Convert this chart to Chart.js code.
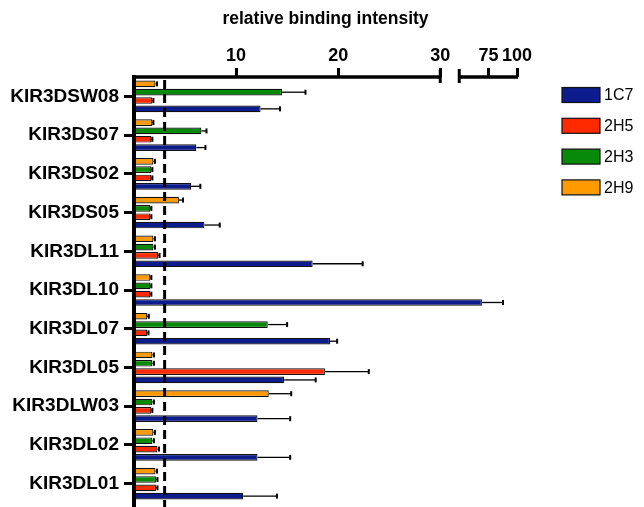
<!DOCTYPE html>
<html><head><meta charset="utf-8">
<script src="https://cdn.jsdelivr.net/npm/chart.js@4/dist/chart.umd.min.js"></script>
<style>html,body{margin:0;padding:0;background:#fff;}#wrap{width:644px;height:507px;position:relative}</style>
</head><body><div id="wrap"><canvas id="c" width="644" height="507"></canvas></div>
<script>
// ---- data ----
const categories = ['KIR3DSW08','KIR3DS07','KIR3DS02','KIR3DS05','KIR3DL11','KIR3DL10','KIR3DL07','KIR3DL05','KIR3DLW03','KIR3DL02','KIR3DL01'];
const series1C7 = [12.4, 6.1, 5.6, 6.9, 17.5, 69.2, 19.2, 14.7, 12.1, 12.1, 10.7];
const err1C7    = [1.9, 0.9, 0.9, 1.5, 4.9, 18.5, 0.7, 3.1, 3.2, 3.2, 3.3];
const series2H5 = [1.8, 1.7, 1.7, 1.6, 2.35, 1.6, 1.3, 18.7, 1.7, 2.3, 2.15];
const err2H5    = [0.1, 0.1, 0.1, 0.1, 0.15, 0.1, 0.12, 4.3, 0.1, 0.15, 0.15];
const series2H3 = [14.5, 6.6, 1.7, 1.6, 1.9, 1.6, 13.1, 1.8, 1.8, 1.8, 2.15];
const err2H3    = [2.3, 0.5, 0.1, 0.1, 0.15, 0.1, 1.9, 0.15, 0.15, 0.15, 0.15];
const series2H9 = [2.1, 1.8, 1.9, 4.4, 1.9, 1.6, 1.3, 1.8, 13.2, 1.9, 2.1];
const err2H9    = [0.15, 0.1, 0.15, 0.4, 0.15, 0.1, 0.15, 0.15, 2.2, 0.15, 0.15];
const xTickValues = [10, 20, 30, 75, 100];
const thresholdValue = 3;
const axisTitle = 'relative binding intensity';

// ---- broken axis mapping (0-30 | 49.3-100) ----
const LOW_MAX = 30, HIGH_MIN = 49.3, HIGH_MAX = 100, GAP = 1.86, HIGH_K = 0.1116;
function fwd(v){ return v <= LOW_MAX ? v : LOW_MAX + GAP + (v - HIGH_MIN) * HIGH_K; }

const FONT = "'Liberation Sans', Arial, Helvetica, sans-serif";
const colors = {c1C7:'#0c1c8c', c2H5:'#ff2a00', c2H3:'#078a07', c2H9:'#ff9a00'};

function ds(label, vals, errs, color){
  return {label, data: vals.map(fwd), raw: vals, err: errs, backgroundColor: color,
    borderColor: '#111', borderWidth: 1.2, borderSkipped: 'start'};
}

const datasets = [
  ds('2H9', series2H9, err2H9, colors.c2H9),
  ds('2H3', series2H3, err2H3, colors.c2H3),
  ds('2H5', series2H5, err2H5, colors.c2H5),
  ds('1C7', series1C7, err1C7, colors.c1C7)
];

const decor = {
  id: 'decor',
  afterDatasetsDraw(chart){
    const ctx = chart.ctx, xs = chart.scales.x, ca = chart.chartArea;
    ctx.save();
    // error bars
    chart.data.datasets.forEach((d, i) => {
      const meta = chart.getDatasetMeta(i);
      meta.data.forEach((bar, j) => {
        const x1 = xs.getPixelForValue(fwd(d.raw[j]));
        const x2 = xs.getPixelForValue(fwd(d.raw[j] + d.err[j]));
        ctx.strokeStyle = '#000';
        ctx.lineWidth = 1.3;
        ctx.beginPath(); ctx.moveTo(x1, bar.y); ctx.lineTo(x2, bar.y); ctx.stroke();
        ctx.lineWidth = 2;
        ctx.beginPath(); ctx.moveTo(x2, bar.y - 2.5); ctx.lineTo(x2, bar.y + 2.5); ctx.stroke();
      });
    });
    // dashed threshold
    const xt = xs.getPixelForValue(fwd(thresholdValue));
    ctx.setLineDash([9, 5]);
    ctx.lineWidth = 3;
    ctx.beginPath(); ctx.moveTo(xt, ca.top + 3); ctx.lineTo(xt, 507); ctx.stroke();
    ctx.setLineDash([]);
    // left axis
    ctx.lineWidth = 4;
    ctx.beginPath(); ctx.moveTo(ca.left, ca.top - 2); ctx.lineTo(ca.left, 507); ctx.stroke();
    // top broken axis
    const p30 = xs.getPixelForValue(fwd(LOW_MAX));
    const pHi = xs.getPixelForValue(fwd(HIGH_MIN));
    const p100 = xs.getPixelForValue(fwd(HIGH_MAX));
    ctx.lineWidth = 3.5;
    ctx.beginPath(); ctx.moveTo(ca.left - 2, ca.top); ctx.lineTo(p30, ca.top); ctx.stroke();
    ctx.beginPath(); ctx.moveTo(pHi, ca.top); ctx.lineTo(p100 + 1, ca.top); ctx.stroke();
    ctx.lineWidth = 3;
    ctx.beginPath(); ctx.moveTo(p30, ca.top - 8); ctx.lineTo(p30, ca.top + 6); ctx.stroke();
    ctx.beginPath(); ctx.moveTo(pHi, ca.top - 8); ctx.lineTo(pHi, ca.top + 6); ctx.stroke();
    ctx.restore();
  },
  afterDraw(chart){
    // legend (reverse dataset order)
    const ctx = chart.ctx;
    ctx.save();
    const items = chart.data.datasets.slice().reverse();
    items.forEach((d, k) => {
      const cy = 95 + k * 30.8;
      ctx.fillStyle = d.backgroundColor;
      ctx.fillRect(562, cy - 7.5, 38, 15);
      ctx.strokeStyle = '#111'; ctx.lineWidth = 1.2;
      ctx.strokeRect(562, cy - 7.5, 38, 15);
      ctx.fillStyle = '#000';
      ctx.font = "16px " + FONT;
      ctx.textBaseline = 'middle';
      ctx.textAlign = 'left';
      ctx.fillText(d.label, 604, cy + 1);
    });
    ctx.restore();
  }
};

new Chart(document.getElementById('c'), {
  type: 'bar',
  data: {labels: categories, datasets},
  options: {
    indexAxis: 'y',
    responsive: false,
    animation: false,
    layout: {padding: {left: 0, top: 0, right: 127, bottom: 4}},
    plugins: {legend: {display: false}, tooltip: {enabled: false}},
    datasets: {bar: {barPercentage: 0.8, categoryPercentage: 0.86}},
    scales: {
      x: {
        position: 'top', min: 0, max: fwd(HIGH_MAX),
        afterFit(s){ s.height = 77; s.paddingLeft = 0; s.paddingRight = 0; },
        afterBuildTicks(s){ s.ticks = xTickValues.map(v => ({value: fwd(v)})); },
        border: {display: false},
        grid: {drawOnChartArea: false, drawTicks: true, tickLength: 9, tickWidth: 3, tickColor: '#000', color: '#000'},
        ticks: {autoSkip: false, maxRotation: 0, padding: 1, color: '#000',
          font: {family: FONT, size: 18, weight: 'bold'},
          callback: (v, i) => String(xTickValues[i])},
        title: {display: true, text: axisTitle, color: '#000', padding: {top: 9, bottom: 0},
          font: {family: FONT, size: 17.5, weight: 'bold'}}
      },
      y: {
        position: 'left', offset: true,
        afterFit(s){ s.width = 134; s.paddingTop = 0; s.paddingBottom = 0; },
        border: {display: false},
        grid: {offset: false, drawOnChartArea: false, drawTicks: true, tickLength: 10, tickWidth: 3, tickColor: '#000', color: '#000'},
        ticks: {padding: 5, color: '#000', font: {family: FONT, size: 19, weight: 'bold'}}
      }
    }
  },
  plugins: [decor]
});
</script></body></html>
